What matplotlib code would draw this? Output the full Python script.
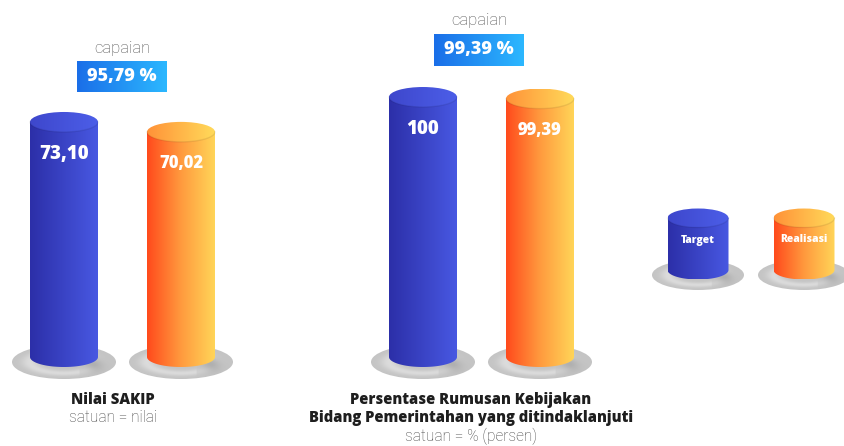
import numpy as np
import matplotlib
matplotlib.use("Agg")
import matplotlib.pyplot as plt
from matplotlib.patches import Ellipse, Rectangle, PathPatch
from matplotlib.path import Path
from matplotlib.colors import to_rgb

# ---- data ----
indicators = ["Nilai SAKIP",
              "Persentase Rumusan Kebijakan\nBidang Pemerintahan yang ditindaklanjuti"]
units = ["satuan = nilai", "satuan = % (persen)"]
target = [73.10, 100]
realisasi = [70.02, 99.39]
capaian = [95.79, 99.39]
legend_labels = ["Target", "Realisasi"]

# ---- layout (figure pixels) ----
W, H = 844, 446
group_ylim = [(-27.68, 111.04), (-34.23, 137.31)]
bar_x = [(64, 181), (423, 540)]
label_x = [113, 471]
cap_x = [122, 479]
cap_py = [48, 21]
badge_box = [(77, 61, 167, 92), (434, 34, 524, 66)]
CYL_W = 68
ELL_PX = 20
DISK_W, DISK_PX = 104, 34

BLUE_BODY = ("#2c2fa8", "#4858e2")
BLUE_TOP = ("#3e47cc", "#4c5ee8")
ORANGE_BODY = ("#ff4a1c", "#ffd558")
ORANGE_TOP = ("#ff9238", "#ffda5a")
BADGE = ("#1a6ee8", "#2cb8ff")

BOLD_FONT = ["Open Sans", "DejaVu Sans"]
LIGHT_FONT = ["Roboto", "DejaVu Sans"]
plt.rcParams["font.family"] = BOLD_FONT


def hgrad(c0, c1, n=256, mid=None):
    a, b = np.array(to_rgb(c0)), np.array(to_rgb(c1))
    t = np.linspace(0, 1, n)[None, :, None]
    if mid is not None:
        m = np.array(to_rgb(mid))
        img = np.where(t < 0.5, a + (m - a) * (t / 0.5), m + (b - m) * ((t - 0.5) / 0.5))
    else:
        img = a + (b - a) * t
    return img


def cylinder(ax, xc, w, ybot, ytop, eh, body, top, mid=None, z=3):
    xl, xr = xc - w / 2, xc + w / 2
    th = np.linspace(np.pi, 2 * np.pi, 60)
    arc = np.column_stack([xc + w / 2 * np.cos(th), ybot + eh / 2 * np.sin(th)])
    verts = np.vstack([[xl, ytop], arc, [xr, ytop], [xl, ytop]])
    codes = [Path.MOVETO] + [Path.LINETO] * (len(verts) - 2) + [Path.CLOSEPOLY]
    clip = PathPatch(Path(verts, codes), facecolor="none", edgecolor="none",
                     transform=ax.transData)
    ax.add_patch(clip)
    im = ax.imshow(hgrad(*body, mid=mid), extent=[xl, xr, ybot - eh / 2, ytop],
                   aspect="auto", interpolation="bilinear", zorder=z)
    im.set_clip_path(clip)
    ell = Ellipse((xc, ytop), w, eh, facecolor="none", edgecolor="none")
    ax.add_patch(ell)
    im2 = ax.imshow(hgrad(*top), extent=[xl, xr, ytop - eh / 2, ytop + eh / 2],
                    aspect="auto", interpolation="bilinear", zorder=z + 0.1)
    im2.set_clip_path(ell)
    # soft rim where the lid meets the body
    th2 = np.linspace(np.pi, 2 * np.pi, 60)
    ax.plot(xc + w / 2 * np.cos(th2), ytop + eh / 2 * np.sin(th2),
            color=(0, 0, 0, 0.08), lw=1.0, zorder=z + 0.2)


def disk(ax, xc, yc, w, h, z=2):
    n = 200
    u = np.linspace(-1, 1, n)
    U, V = np.meshgrid(u, u[::-1])
    r = np.sqrt(U ** 2 + V ** 2)
    g = 0.77 + 0.09 * np.exp(-((r - 0.66) / 0.16) ** 2) * (1 - 0.5 * (U > 0.3))
    g -= 0.12 * np.exp(-(((U - 0.6) ** 2) / 0.03 + ((V + 0.15) ** 2) / 0.15))
    img = np.dstack([g, g, g])
    ell = Ellipse((xc, yc), w, h, facecolor="none", edgecolor="none")
    ax.add_patch(ell)
    im = ax.imshow(np.clip(img, 0, 1), extent=[xc - w / 2, xc + w / 2, yc - h / 2, yc + h / 2],
                   aspect="auto", interpolation="bilinear", zorder=z)
    im.set_clip_path(ell)


fig = plt.figure(figsize=(W / 100, H / 100), dpi=100)
fig.patch.set_facecolor("white")

# overlay axes in pixel units (y measured from the bottom)
ax0 = fig.add_axes([0, 0, 1, 1])
ax0.axis("off")


def P(py):
    return H - py


def fmt(v):
    return str(int(v)) if float(v).is_integer() else f"{v:.2f}".replace(".", ",")


for g in range(len(indicators)):
    ax = fig.add_axes([0, 0, 1, 1], zorder=2)
    ax.patch.set_alpha(0)
    ax.axis("off")
    lo, hi = group_ylim[g]
    ppu = H / (hi - lo)                 # pixels per value unit
    eh = ELL_PX / ppu
    for k, (val, body, top) in enumerate([(target[g], BLUE_BODY, BLUE_TOP),
                                          (realisasi[g], ORANGE_BODY, ORANGE_TOP)]):
        xc = bar_x[g][k]
        disk(ax, xc, -5 / ppu, DISK_W, DISK_PX / ppu)
        cylinder(ax, xc, CYL_W, 0, val, eh, body, top,
                 mid="#ff9a3e" if k == 1 else None)
        ax.text(xc, val - 32 / ppu, fmt(val), color="white", ha="center", va="center",
                fontsize=13.5 if k == 0 else 12, fontweight="heavy", zorder=6)
    ax.set_xlim(0, W)
    ax.set_ylim(lo, hi)

    # header: capaian badge
    ax0.text(cap_x[g], P(cap_py[g]), "capaian", ha="center", va="center",
             fontsize=12, color="#505050", family=LIGHT_FONT, fontweight="light")
    x0, y0, x1, y1 = badge_box[g]
    rect = Rectangle((x0, P(y1)), x1 - x0, y1 - y0, facecolor="none", edgecolor="none")
    ax0.add_patch(rect)
    bim = ax0.imshow(hgrad(*BADGE), extent=[x0, x1, P(y1), P(y0)], aspect="auto",
                     interpolation="bilinear", zorder=3)
    bim.set_clip_path(rect)
    ax0.text((x0 + x1) / 2, P((y0 + y1) / 2), f"{capaian[g]:.2f} %".replace(".", ","),
             ha="center", va="center", color="white", fontsize=13, fontweight="heavy", zorder=4)

    # footer
    lines = indicators[g].split("\n")
    py = 400
    for ln in lines:
        ax0.text(label_x[g], P(py), ln, ha="center", va="center", fontsize=10.6,
                 fontweight="heavy", color="#1e1e1e")
        py += 18
    ax0.text(label_x[g], P(py), units[g], ha="center", va="center", fontsize=11.2,
             family=LIGHT_FONT, fontweight="light", color="#444444")

# legend cylinders
for xc, lab, body, top, mid in [(698, legend_labels[0], BLUE_BODY, BLUE_TOP, None),
                                (804, legend_labels[1], ORANGE_BODY, ORANGE_TOP, "#ff9a3e")]:
    disk(ax0, xc, P(275), 92, 30)
    cylinder(ax0, xc, 61, P(270), P(218), 19, body, top, mid=mid)
    ax0.text(xc, P(240), lab, ha="center", va="center", color="white", fontsize=7.5,
             fontweight="heavy", zorder=6)
ax0.set_xlim(0, W)
ax0.set_ylim(0, H)

fig.savefig("out.png", dpi=100, facecolor="white")
